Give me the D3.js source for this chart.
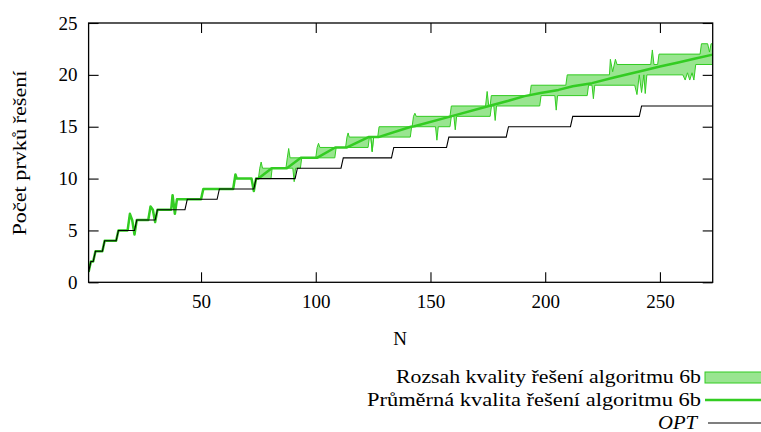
<!DOCTYPE html>
<html><head><meta charset="utf-8">
<script src="https://cdn.jsdelivr.net/npm/d3@7"></script>
<style>
body{margin:0;background:#fff}
</style>
</head><body>
<svg id="c" width="761" height="432"></svg>
<script>
// ---- data ----
const xDomain = [1, 273];
const yDomain = [0, 25];
const xTicks = [50, 100, 150, 200, 250];
const yTicks = [0, 5, 10, 15, 20, 25];

// OPT: [N where the value starts, value]
const optSteps = [[1,1],[2,2],[4,3],[8,4],[14,5],[22,6],[31,7],[44,8],[58,9],[74,10],
  [92,11],[112,12],[134,13],[158,14],[184,15],[212,16],[242,17]];

// algorithm 6b where min = max = mean (N 1..75): [N, value]
const greenEarly = [[1,1],[2,2],[3,2],[4,3],[7,3],[8,4],[13,4],[14,5],[18,5],[19,6.6],[20,6],
  [21,4.6],[22,6],[27,6],[28,7.3],[29,7],[30,5.8],[31,7],[37,7],[37.6,8.4],[38.6,6.6],[39.5,8],
  [50,8],[51,9],[64,9],[65,10.4],[65.6,10],[72,10],[73,8.8],[74,10],[75,10]];

// upper edge of the range (max), N >= 75
const rangeMax = [[75,10],[75.6,11],[76.2,11.6],[76.8,11],[87,11],[87.6,12],[88.2,12.9],[88.8,12],
  [100,12],[100.6,13],[101.2,13.4],[101.8,13],[113,13],[113.6,14],[114.1,14.4],[114.6,14],
  [124,14],[124.6,12.6],[125.2,14],[127,14],[127.6,15],[142,15],[142.6,16],[143.2,16.3],[143.8,16],
  [158.5,16],[159.1,17],[174,17],[174.7,18.4],[175.4,17],[176,17],[176.5,18],[193.3,18],[193.9,19],
  [209,19],[209.6,20],[228,20],[228.4,21.5],[229.4,20.3],[230.6,21.5],[231.3,21],[246,21],
  [246.7,22.4],[247.4,21],[249,21],[249.6,22],[267.5,22],[268.1,23],[270.8,23],[271.6,22.2],
  [272.3,23],[273,23]];

// lower edge of the range (min), N >= 75
const rangeMin = [[75,10],[80.5,10],[81,11],[90,11],[90.6,9.7],[91.2,11],[93.3,11],[93.9,12],
  [108.3,12],[108.9,13],[122.8,13],[123.4,14],[124,14],[124.6,12.6],[125.2,14],[141.2,14],
  [141.8,15],[152.2,15],[152.8,13.7],[153.4,15],[158.5,15],[159.1,16],[160.2,16],[160.8,14.7],
  [161.4,16],[176,16],[176.6,17],[177.6,17],[178.2,15.6],[178.8,17],[197.6,17],[198.2,18],
  [204.2,18],[204.8,16.6],[205.4,18],[218.3,18],[218.9,19],[220.4,19],[221,17.7],[221.6,19],
  [239,19],[240,18.1],[241,20],[242,18.3],[243,20],[243.6,18.2],[244.3,20],[260,20],[261,19.5],
  [262,20.2],[263,19.5],[264,20.2],[264.8,19.5],[265.6,21],[273,21]];

// mean, N >= 75
const meanLate = [[75,10],[80.8,11],[87.4,11],[93.5,12],[100.5,12],[108.5,13],[113.6,13],[123,14],
  [127.3,14],[141.5,15],[143,15.05],[158.9,16],[176.3,17.05],[184,17.5],[191,17.95],[198,18.25],
  [205.8,18.55],[212,18.9],[220.4,19.2],[230,19.75],[241.5,20.35],[250,20.8],[258,21.2],
  [265,21.55],[273,21.95]];

const legendLabels = ["Rozsah kvality řešení algoritmu 6b", "Průměrná kvalita řešení algoritmu 6b", "OPT"];
const xLabel = "N";
const yLabel = "Počet prvků řešení";

// ---- drawing ----
const FONT = '"Liberation Serif", "Times New Roman", serif';
const m = {left: 88.6, right: 712.7, top: 23, bottom: 282.3};
const green = "#33cc22";
const bandFill = "rgba(51,204,34,0.5)";
const svg = d3.select("#c");

const x = d3.scaleLinear().domain(xDomain).range([m.left, m.right]);
const y = d3.scaleLinear().domain(yDomain).range([m.bottom, m.top]);

// expand OPT steps into line vertices
const optPts = [];
optSteps.forEach((s, i) => {
  const end = i + 1 < optSteps.length ? optSteps[i+1][0] - 1 : xDomain[1];
  optPts.push([s[0], s[1]]);
  if (end > s[0]) optPts.push([end, s[1]]);
});

svg.append("defs").append("clipPath").attr("id","clip")
  .append("rect").attr("x", m.left).attr("y", m.top)
  .attr("width", m.right - m.left).attr("height", m.bottom - m.top);

const line = d3.line().x(d => x(d[0])).y(d => y(d[1]));
const g = svg.append("g").attr("clip-path","url(#clip)");

// band polygon: max forward, min backward
const upper = greenEarly.concat(rangeMax.slice(1));
const lower = greenEarly.concat(rangeMin.slice(1));
const poly = upper.concat(lower.slice().reverse());
g.append("path").attr("d", line(poly) + "Z")
  .attr("fill", bandFill).attr("stroke", green).attr("stroke-width", 1);

// mean line
const meanPts = greenEarly.concat(meanLate.slice(1));
g.append("path").attr("d", line(meanPts)).attr("fill","none")
  .attr("stroke", green).attr("stroke-width", 2.5).attr("stroke-linejoin","round");

// OPT line
g.append("path").attr("d", line(optPts)).attr("fill","none")
  .attr("stroke", "#000").attr("stroke-width", 1.1);

// axes
const fs = 19;
const ax = (sel) => {
  sel.attr("font-family", null).attr("font-size", null);
  sel.select(".domain").remove();
  sel.selectAll("line").attr("stroke","#000").attr("stroke-width",1.1);
  sel.selectAll("text").style("font-family", FONT).style("font-size", fs+"px").attr("fill","#000");
};
svg.append("g").attr("transform",`translate(0,${m.bottom})`)
  .call(d3.axisBottom(x).tickValues(xTicks).tickSizeInner(-10).tickSizeOuter(0).tickPadding(12))
  .call(ax);
svg.append("g").attr("transform",`translate(0,${m.top})`)
  .call(d3.axisTop(x).tickValues(xTicks).tickSizeInner(-10).tickSizeOuter(0).tickFormat(""))
  .call(ax);
svg.append("g").attr("transform",`translate(${m.left},0)`)
  .call(d3.axisLeft(y).tickValues(yTicks).tickSizeInner(-10).tickSizeOuter(0).tickPadding(11))
  .call(ax);
svg.append("g").attr("transform",`translate(${m.right},0)`)
  .call(d3.axisRight(y).tickValues(yTicks).tickSizeInner(-10).tickSizeOuter(0).tickFormat(""))
  .call(ax);

// frame
svg.append("rect").attr("x", m.left).attr("y", m.top)
  .attr("width", m.right - m.left).attr("height", m.bottom - m.top)
  .attr("fill","none").attr("stroke","#000").attr("stroke-width",1.3);

const txt = (sel, size) => sel.style("font-family", FONT).style("font-size", size + "px").attr("fill", "#000");

// axis titles
svg.append("text").attr("x", 400).attr("y", 345).attr("text-anchor","middle")
  .call(txt, fs).text(xLabel);
svg.append("text").attr("transform","translate(26,153) rotate(-90)").attr("text-anchor","middle")
  .call(txt, fs).attr("textLength", 165).attr("lengthAdjust","spacingAndGlyphs")
  .text(yLabel);

// legend
const lx = 701, sx0 = 705, sx1 = 775;
const rows = [383, 406, 429];
const lfs = 18.5;
svg.append("text").attr("x", lx).attr("y", rows[0]).attr("text-anchor","end").call(txt, lfs)
  .attr("textLength", 305).attr("lengthAdjust","spacingAndGlyphs").text(legendLabels[0]);
svg.append("rect").attr("x", sx0).attr("y", rows[0]-11).attr("width", sx1-sx0).attr("height", 11)
  .attr("fill", bandFill).attr("stroke", green).attr("stroke-width",1);
svg.append("text").attr("x", lx).attr("y", rows[1]).attr("text-anchor","end").call(txt, lfs)
  .attr("textLength", 334).attr("lengthAdjust","spacingAndGlyphs").text(legendLabels[1]);
svg.append("line").attr("x1", sx0).attr("x2", sx1).attr("y1", rows[1]-6).attr("y2", rows[1]-6)
  .attr("stroke", green).attr("stroke-width", 2.5);
svg.append("text").attr("x", lx-4).attr("y", rows[2]).attr("text-anchor","end").call(txt, lfs)
  .style("font-style","italic").attr("textLength", 39).attr("lengthAdjust","spacingAndGlyphs")
  .text(legendLabels[2]);
svg.append("line").attr("x1", sx0+3).attr("x2", sx1).attr("y1", rows[2]-6).attr("y2", rows[2]-6)
  .attr("stroke", "#000").attr("stroke-width", 1.1);
</script>
</body></html>
